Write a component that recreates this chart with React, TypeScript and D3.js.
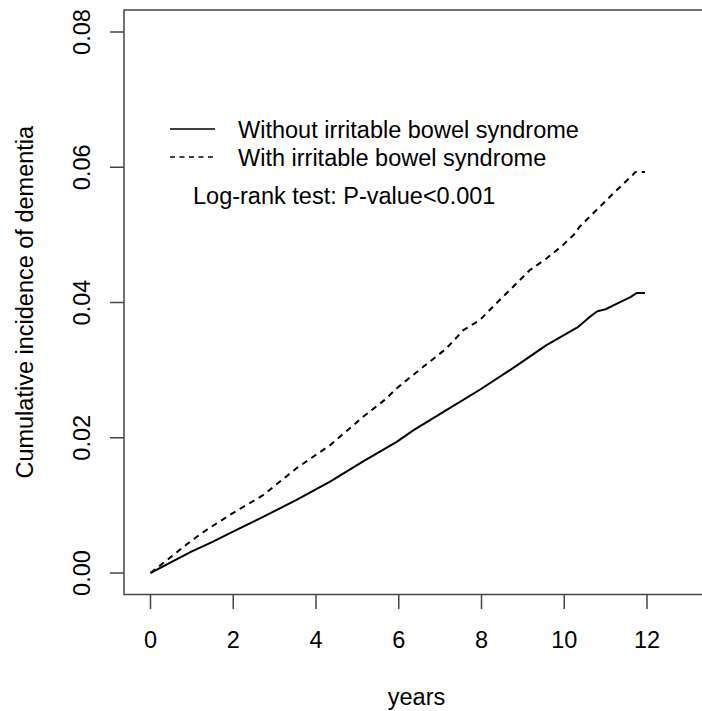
import React from "react";
import * as d3 from "d3";

const timesWithout = [0, 0.5, 1, 1.5, 1.92, 2.72, 3.53, 4.34, 5.14, 5.95, 6.35, 7.15, 7.96, 8.76, 9.57, 10.34, 10.6, 10.8, 11, 11.2, 11.4, 11.6, 11.75, 11.95];
const valuesWithout = [0, 0.0016, 0.0032, 0.0046, 0.0059, 0.0083, 0.0108, 0.0135, 0.0165, 0.0194, 0.0211, 0.0241, 0.0271, 0.0303, 0.0337, 0.0364, 0.0378, 0.0387, 0.039, 0.0396, 0.0402, 0.0408, 0.0414, 0.0414];

const timesWith = [0, 0.5, 0.95, 1.36, 1.92, 2.72, 3.53, 4.34, 5.14, 5.66, 5.95, 6.35, 7.15, 7.56, 7.96, 8.36, 8.76, 9.17, 9.57, 9.97, 10.26, 10.37, 11.18, 11.66, 11.72, 11.95];
const valuesWith = [0, 0.0024, 0.0046, 0.0064, 0.0086, 0.0115, 0.0155, 0.0189, 0.0231, 0.0256, 0.0273, 0.0293, 0.0332, 0.0359, 0.0374, 0.0399, 0.0423, 0.0448, 0.0465, 0.0485, 0.0502, 0.0512, 0.0561, 0.0589, 0.0593, 0.0593];

const xTicks = [0, 2, 4, 6, 8, 10, 12];
const yTicks = [0, 0.02, 0.04, 0.06, 0.08];
const legendLabels = ["Without irritable bowel syndrome", "With irritable bowel syndrome"];
const annotation = "Log-rank test: P-value<0.001";

const FONT = "'Liberation Sans', Arial, sans-serif";

export default function App() {
  const W = 702, H = 711;
  const box = { left: 124, right: 709, top: 10, bottom: 594.5 };
  const x = d3.scaleLinear().domain([0, 12]).range([150.5, 647]);
  const y = d3.scaleLinear().domain([0, 0.08]).range([573, 32]);

  const line = d3.line<[number, number]>().x(d => x(d[0])).y(d => y(d[1]));
  const pathWithout = line(timesWithout.map((t, i) => [t, valuesWithout[i]]) as [number, number][]) || "";
  const pathWith = line(timesWith.map((t, i) => [t, valuesWith[i]]) as [number, number][]) || "";

  const axisColor = "#444";
  const fs = 23.5;

  return (
    <svg width={W} height={H} style={{ position: "absolute", left: 0, top: 0, background: "#fff" }}>
      <rect x={0} y={0} width={W} height={H} fill="#fff" />
      <rect x={box.left} y={box.top} width={box.right - box.left} height={box.bottom - box.top} fill="none" stroke={axisColor} strokeWidth={1.5} />
      {xTicks.map(t => (
        <g key={"x" + t}>
          <line x1={x(t)} x2={x(t)} y1={box.bottom} y2={box.bottom + 14.5} stroke={axisColor} strokeWidth={1.5} />
          <text x={x(t)} y={648} textAnchor="middle" fontFamily={FONT} fontSize={fs} fill="#000">{t}</text>
        </g>
      ))}
      {yTicks.map(v => (
        <g key={"y" + v}>
          <line x1={box.left - 14} x2={box.left} y1={y(v)} y2={y(v)} stroke={axisColor} strokeWidth={1.5} />
          <text transform={`translate(90,${y(v)}) rotate(-90)`} textAnchor="middle" fontFamily={FONT} fontSize={fs} fill="#000">{v.toFixed(2)}</text>
        </g>
      ))}
      <text transform={`translate(33,${(box.top + box.bottom) / 2}) rotate(-90)`} textAnchor="middle" fontFamily={FONT} fontSize={fs} fill="#000">Cumulative incidence of dementia</text>
      <text x={(box.left + box.right) / 2} y={705} textAnchor="middle" fontFamily={FONT} fontSize={fs} fill="#000">years</text>

      <path d={pathWithout} fill="none" stroke="#000" strokeWidth={2} strokeLinejoin="round" />
      <path d={pathWith} fill="none" stroke="#000" strokeWidth={2} strokeDasharray="6,5" strokeLinejoin="round" />

      <line x1={170} x2={215} y1={129} y2={129} stroke="#000" strokeWidth={1.5} />
      <text x={238} y={138} fontFamily={FONT} fontSize={fs} fill="#000">{legendLabels[0]}</text>
      <line x1={170} x2={215} y1={157} y2={157} stroke="#000" strokeWidth={1.5} strokeDasharray="5,4.5" />
      <text x={238} y={166} fontFamily={FONT} fontSize={fs} fill="#000">{legendLabels[1]}</text>
      <text x={193} y={204} fontFamily={FONT} fontSize={fs} fill="#000">{annotation}</text>
    </svg>
  );
}
